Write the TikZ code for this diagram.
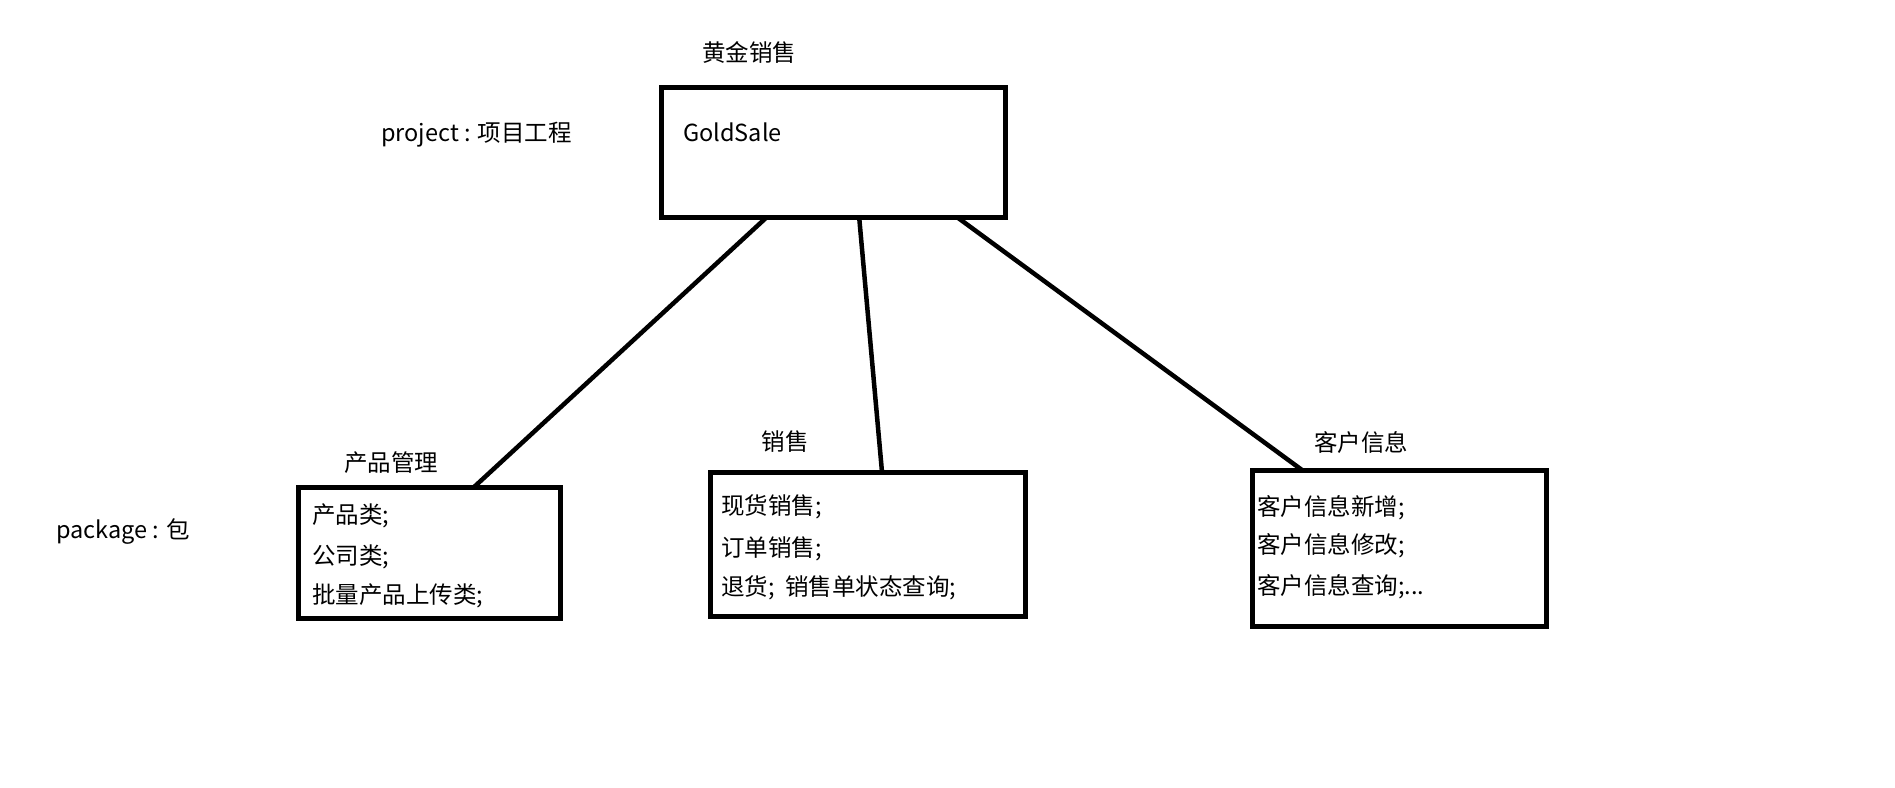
\documentclass[tikz,border=0pt]{standalone}
\usepackage{fontspec}
\setmainfont{Noto Sans CJK SC}
\usetikzlibrary{calc}
\begin{document}
\begin{tikzpicture}[x=1pt,y=-1pt,
  box/.style={draw=black,line width=5pt,rectangle,inner sep=0pt,outer sep=0pt},
  txt/.style={inner sep=0pt,font=\fontsize{23.5}{28}\selectfont,anchor=west},
  link/.style={draw=black,line width=4.5pt}]
\useasboundingbox (0,0) rectangle (1895,787);

% module boxes
\node[box,minimum width=344pt,minimum height=130pt] (top) at (833,152) {};
\node[box,minimum width=262pt,minimum height=131pt] (b1) at (429,552.5) {};
\node[box,minimum width=315pt,minimum height=144pt] (b2) at (867.5,544) {};
\node[box,minimum width=294pt,minimum height=156pt] (b3) at (1399,548) {};

% headings
\node[txt,anchor=center] (ttop) at (749,52) {黄金销售};
\node[txt] (gold) at (683,132) {GoldSale};
\node[txt] (proj) at (381,135) {project : 项目工程};
\node[txt] (pkg) at (56,532) {package : 包};
\node[txt,anchor=center] (t1) at (391,463) {产品管理};
\node[txt,anchor=center] (t2) at (785,442) {销售};
\node[txt,anchor=center] (t3) at (1361,443) {客户信息};

% box contents
\node[txt] (l11) at (312,516) {产品类;};
\node[txt] (l12) at (312,557) {公司类;};
\node[txt] (l13) at (312,596) {批量产品上传类;};
\node[txt] (l21) at (721,507) {现货销售;};
\node[txt] (l22) at (721,549) {订单销售;};
\node[txt] (l23) at (721,588) {退货;\ \ 销售单状态查询;};
\node[txt] (l31) at (1257,508) {客户信息新增;};
\node[txt] (l32) at (1257,546) {客户信息修改;};
\node[txt] (l33) at (1257,587) {客户信息查询;...};

% connectors
\draw[link] ($(top.south west)!0.308!(top.south east)$) -- ($(b1.north west)!0.672!(b1.north east)$);
\draw[link] ($(top.south west)!0.576!(top.south east)$) -- ($(b2.north west)!0.546!(b2.north east)$);
\draw[link] ($(top.south west)!0.860!(top.south east)$) -- ($(b3.north west)!0.170!(b3.north east)$);
\end{tikzpicture}
\end{document}
